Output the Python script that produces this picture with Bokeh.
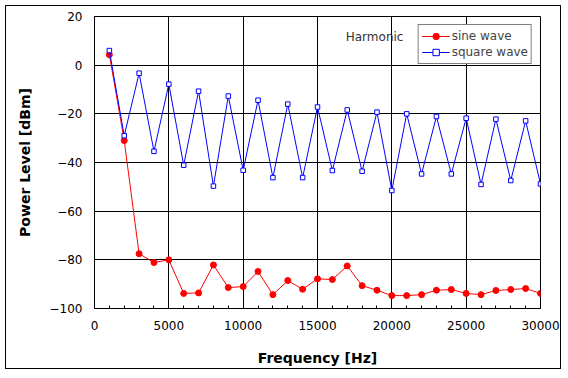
from bokeh.plotting import figure
from bokeh.models import Range1d, Label, Legend, LegendItem, FixedTicker
from bokeh.embed import file_html
from bokeh.resources import INLINE

freq = [1000, 2000, 3000, 4000, 5000, 6000, 7000, 8000, 9000, 10000,
        11000, 12000, 13000, 14000, 15000, 16000, 17000, 18000, 19000, 20000,
        21000, 22000, 23000, 24000, 25000, 26000, 27000, 28000, 29000, 30000]
sine_wave = [4.3, -31.0, -77.5, -81.1, -80.0, -93.8, -93.6, -82.1, -91.4, -91.0,
             -84.8, -94.3, -88.5, -92.1, -87.8, -88.1, -82.5, -90.6, -92.5, -94.7,
             -94.7, -94.3, -92.5, -92.2, -93.8, -94.3, -92.6, -92.2, -91.8, -93.8]
square_wave = [6.0, -29.0, -3.3, -35.4, -7.8, -41.1, -10.7, -49.7, -12.7, -43.2,
               -14.4, -46.2, -16.0, -46.2, -17.2, -43.3, -18.4, -43.6, -19.3, -51.5,
               -20.0, -44.7, -21.1, -44.7, -21.8, -49.0, -22.2, -47.4, -22.9, -48.8]
x_ticks = [0, 5000, 10000, 15000, 20000, 25000, 30000]
y_ticks = [-100, -80, -60, -40, -20, 0, 20]

FONT = "DejaVu Sans"

p = figure(width=556, height=364, output_backend="svg", toolbar_location=None,
           x_range=Range1d(0, 30000), y_range=Range1d(-100, 20),
           min_border_left=88, min_border_right=22, min_border_top=10, min_border_bottom=62)
p.styles = {"border": "1px solid black", "margin-left": "5px", "margin-top": "5px"}
p.background_fill_color = "white"
p.border_fill_color = "white"
p.outline_line_color = "black"
p.outline_line_width = 1

p.xaxis.ticker = FixedTicker(ticks=x_ticks, minor_ticks=list(range(0, 30001, 1000)))
p.yaxis.ticker = FixedTicker(ticks=y_ticks)
for ax in (p.xaxis[0], p.yaxis[0]):
    ax.axis_line_color = "black"
    ax.major_tick_in = 5
    ax.major_tick_out = 0
    ax.major_tick_line_color = "black"
    ax.major_label_text_font = FONT
    ax.major_label_text_font_size = "12px"
    ax.major_label_text_color = "black"
    ax.axis_label_text_font = FONT
    ax.axis_label_text_font_size = "14px"
    ax.axis_label_text_font_style = "bold"
    ax.axis_label_text_color = "black"
p.xaxis.minor_tick_in = 3
p.xaxis.minor_tick_out = 0
p.xaxis.minor_tick_line_color = "black"
p.yaxis.minor_tick_line_color = None
p.xaxis.major_label_standoff = 12
p.yaxis.major_label_standoff = 12
p.xaxis.axis_label = "Frequency [Hz]"
p.yaxis.axis_label = "Power Level [dBm]"
p.xaxis.axis_label_standoff = 17
p.yaxis.axis_label_standoff = 14

p.xgrid.ticker = FixedTicker(ticks=x_ticks)
p.ygrid.ticker = FixedTicker(ticks=y_ticks)
p.grid.grid_line_color = "black"
p.grid.grid_line_width = 1
p.grid.grid_line_alpha = 1

s_line = p.line(freq, sine_wave, line_color="#ff0000", line_width=1)
s_pts = p.scatter(freq, sine_wave, marker="circle", size=6, fill_color="#ff0000", line_color="#ff0000")
q_line = p.line(freq, square_wave, line_color="#0000ff", line_width=1)
q_pts = p.scatter(freq, square_wave, marker="square", size=4.5, fill_color="white", line_color="#0000ff", line_width=1)

legend = Legend(items=[LegendItem(label="sine wave", renderers=[s_line, s_pts]),
                       LegendItem(label="square wave", renderers=[q_line, q_pts])],
                location="top_right")
legend.margin = 8
legend.padding = 3
legend.spacing = 0
legend.glyph_width = 28
legend.glyph_height = 16
legend.label_height = 16
legend.label_standoff = 2
legend.label_text_font = FONT
legend.label_text_font_size = "12px"
legend.border_line_color = "black"
legend.border_line_width = 1
legend.background_fill_alpha = 1
p.add_layout(legend)

p.add_layout(Label(x=16900, y=11.5, text="Harmonic", text_font=FONT, text_font_size="12px",
                   text_color="#333333", text_baseline="middle"))

open("out.html", "w").write(file_html(p, INLINE))
